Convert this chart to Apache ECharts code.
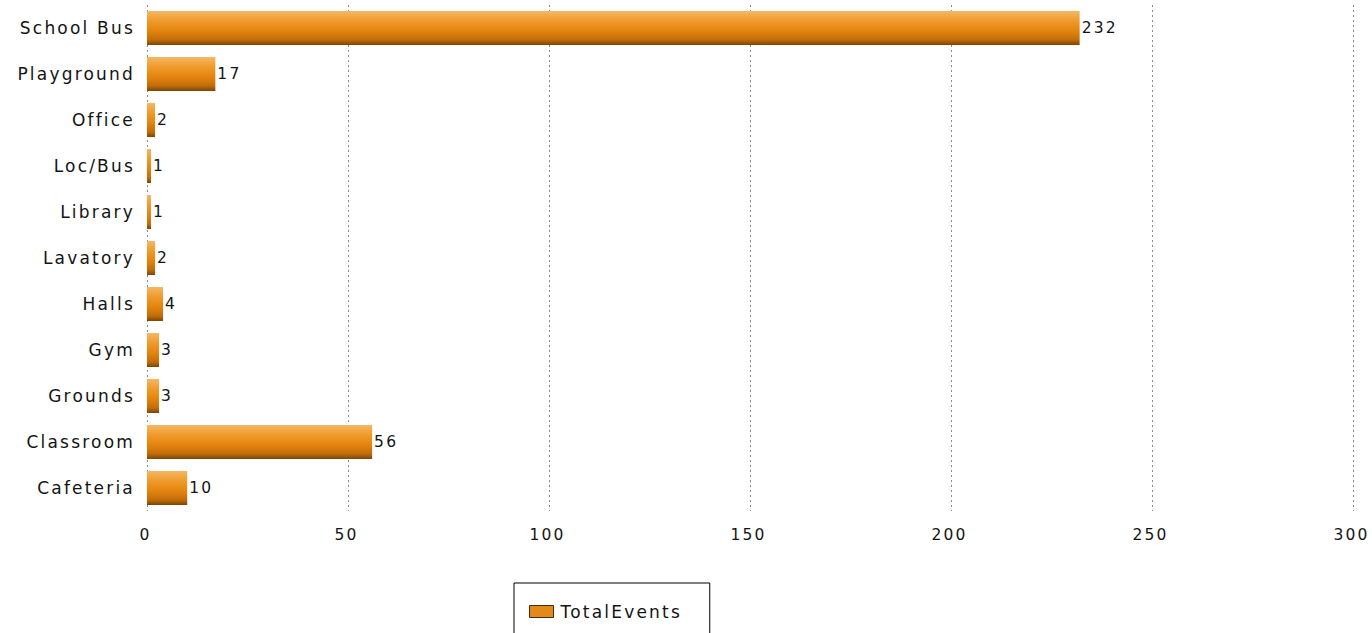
<!DOCTYPE html>
<html>
<head>
<meta charset="utf-8">
<script src="https://cdn.jsdelivr.net/npm/echarts@6/dist/echarts.min.js"></script>
<style>
  html, body { margin: 0; padding: 0; background: #ffffff; }
  #chart { width: 1372px; height: 633px; }
  #chart text { letter-spacing: 2.2px; }
</style>
</head>
<body>
<div id="chart"></div>
<script>
// Locations, listed bottom to top as the category axis draws them
const locations = ['Cafeteria', 'Classroom', 'Grounds', 'Gym', 'Halls', 'Lavatory',
                   'Library', 'Loc/Bus', 'Office', 'Playground', 'School Bus'];
// Number of events recorded at each location
const totalEvents = [10, 56, 3, 3, 4, 2, 1, 1, 2, 17, 232];
// Value axis ticks
const axisMin = 0;
const axisMax = 300;
const axisStep = 50;

const chart = echarts.init(document.getElementById('chart'), null, { renderer: 'svg' });

const wordFont = { fontFamily: 'DejaVu Sans', fontSize: 17, color: '#141414' };
const numberFont = { fontFamily: 'DejaVu Sans', fontSize: 15.5, color: '#141414' };

chart.setOption({
  animation: false,
  backgroundColor: '#ffffff',
  grid: { left: 147, right: 19, top: 5, bottom: 122, containLabel: false },
  legend: {
    left: 514,
    top: 583,
    orient: 'horizontal',
    padding: [20, 52, 30, 15],
    borderColor: '#000000',
    borderWidth: 1,
    itemWidth: 24,
    itemHeight: 12,
    textStyle: Object.assign({}, wordFont, { padding: [0, 0, 0, 2] }),
    data: [{
      name: 'TotalEvents',
      icon: 'rect',
      itemStyle: { color: '#e2891a', borderColor: '#4a2a05', borderWidth: 1 }
    }]
  },
  xAxis: {
    type: 'value',
    min: axisMin,
    max: axisMax,
    interval: axisStep,
    axisLine: { show: false },
    axisTick: { show: false },
    axisLabel: Object.assign({}, numberFont, { margin: 16, padding: [0, 3, 0, 0] }),
    splitLine: {
      show: true,
      lineStyle: { color: '#8a8a8a', width: 1, type: [2, 3] }
    }
  },
  yAxis: {
    type: 'category',
    data: locations,
    axisLine: { show: false },
    axisTick: { show: false },
    axisLabel: Object.assign({}, wordFont, { margin: 12 }),
    splitLine: { show: false }
  },
  series: [{
    name: 'TotalEvents',
    type: 'bar',
    data: totalEvents,
    barWidth: 34,
    itemStyle: {
      color: new echarts.graphic.LinearGradient(0, 0, 0, 1, [
        { offset: 0, color: '#f4b865' },
        { offset: 0.3, color: '#ef9a2a' },
        { offset: 0.6, color: '#e3830e' },
        { offset: 0.85, color: '#c06d0a' },
        { offset: 1, color: '#7d4504' }
      ])
    },
    label: Object.assign({ show: true, position: 'right', distance: 2 }, numberFont)
  }]
});
</script>
</body>
</html>
